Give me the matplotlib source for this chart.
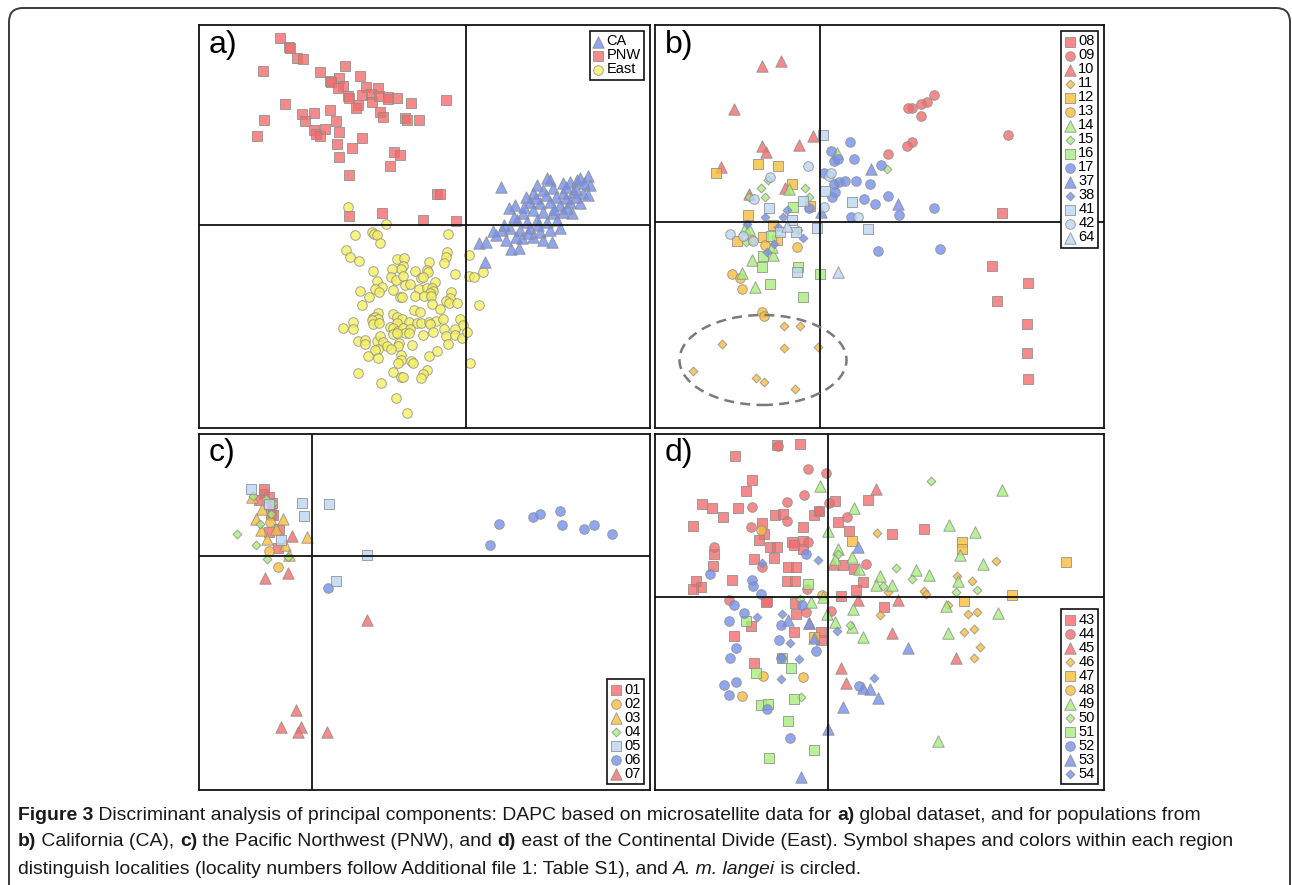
import matplotlib
matplotlib.use('Agg')
import matplotlib.pyplot as plt
from matplotlib.patches import FancyBboxPatch, Ellipse

# DAPC scores (arbitrary discriminant units, origin = axis cross)

# ---- a) global dataset
a_ca = [(35, 38), (27, -6), (36, -5), (13, -18), (20, -17), (19, -37), (45, -24), (53, -23), (43, 17), (49, 20),
        (81, 47), (84, 45), (97, 42), (104, 43), (111, 45), (114, 47), (122, 49), (124, 40), (71, 40), (67, 32),
        (77, 35), (87, 37), (97, 32), (107, 33), (117, 32), (122, 30), (64, 23), (74, 22), (84, 23), (94, 20),
        (104, 23), (114, 22), (57, 12), (67, 15), (77, 13), (87, 12), (97, 13), (106, 12), (51, 5), (61, 3),
        (71, 5), (81, 3), (91, 5), (44, -3), (54, -5), (64, -3), (74, -7), (84, -5), (94, -3), (56, -13),
        (67, -12), (77, -15), (86, -17), (60, 28), (90, 28), (100, 38), (110, 36), (118, 42), (58, 18), (70, 27),
        (80, 30), (100, 27), (110, 28), (48, 8), (38, 0), (30, -10), (62, -8), (72, 0), (88, 16), (101, 17),
        (50, -12), (40, -15)]
a_pnw = [(-186, 187), (-177, 178), (-176, 177), (-169, 167), (-163, 166), (-203, 154), (-146, 153), (-121, 159),
         (-106, 149), (-127, 147), (-136, 144), (-135, 143), (-123, 139), (-128, 137), (-100, 138), (-88, 137),
         (-118, 129), (-117, 127), (-104, 130), (-95, 131), (-94, 123), (-87, 129), (-78, 128), (-78, 126),
         (-69, 127), (-55, 122), (-20, 125), (-181, 121), (-108, 120), (-110, 117), (-164, 111), (-152, 112),
         (-136, 115), (-161, 104), (-202, 105), (-130, 104), (-86, 113), (-83, 108), (-61, 107), (-59, 105),
         (-47, 105), (-152, 95), (-150, 91), (-146, 89), (-141, 96), (-127, 93), (-209, 89), (-104, 87),
         (-129, 81), (-114, 77), (-127, 68), (-72, 73), (-66, 70), (-76, 59), (-117, 50), (-29, 31), (-26, 31),
         (-117, 9), (-84, 12), (-43, 5), (-10, 4)]
a_east = [(-118, 18), (-80, 1), (-111, -10), (-94, -7), (-92, -9), (-89, -10), (-86, -18), (-18, -9), (-120, -25),
          (-116, -32), (-107, -36), (-19, -27), (-20, -32), (-22, -38), (3, -30), (-69, -34), (-62, -33), (-37, -37),
          (-63, -41), (-65, -44), (-74, -44), (-93, -46), (-51, -46), (-39, -45), (-38, -47), (-75, -52), (-70, -55),
          (-63, -51), (-45, -53), (-43, -52), (-11, -49), (3, -51), (8, -52), (17, -47), (-89, -56), (-31, -57),
          (-61, -60), (-56, -59), (-84, -62), (-91, -64), (-87, -67), (-73, -65), (-47, -64), (-39, -63), (-34, -63),
          (-33, -66), (-36, -68), (-106, -66), (-97, -72), (-66, -72), (-64, -72), (-51, -71), (-42, -71), (-35, -71),
          (-15, -67), (-16, -73), (-20, -76), (-17, -78), (-9, -78), (-104, -80), (-34, -79), (13, -80), (-52, -85),
          (-46, -87), (-26, -84), (-88, -88), (-73, -89), (-93, -93), (-91, -92), (-88, -94), (-69, -92), (-64, -94),
          (-69, -98), (-57, -97), (-49, -98), (-45, -98), (-37, -97), (-30, -96), (-23, -94), (-36, -99), (-6, -94),
          (-3, -100), (-123, -103), (-113, -97), (-113, -104), (-94, -95), (-93, -99), (-87, -98), (-76, -102),
          (-73, -103), (-68, -106), (-63, -103), (-56, -104), (-61, -108), (-73, -109), (-69, -108), (-57, -108),
          (-33, -107), (-43, -110), (-22, -104), (-11, -104), (-20, -111), (-11, -110), (-4, -113), (1, -107),
          (-108, -116), (-101, -115), (-101, -119), (-89, -116), (-86, -111), (-83, -117), (-79, -121), (-67, -118),
          (-68, -121), (-54, -120), (-18, -119), (-88, -124), (-91, -125), (-75, -124), (-29, -126), (-98, -131),
          (-88, -133), (-65, -130), (-65, -135), (-68, -138), (-55, -136), (-53, -138), (-37, -131), (4, -138),
          (-108, -148), (-73, -147), (-65, -152), (-63, -152), (-39, -145), (-43, -149), (-45, -153), (-85, -158),
          (-70, -173), (-59, -188)]

# ---- b) California
b_08 = [(182, 9), (172, -44), (208, -61), (177, -79), (207, -102), (207, -131), (208, -157)]
b_09 = [(114, 127), (107, 120), (101, 118), (92, 114), (88, 114), (101, 106), (188, 87), (92, 80), (87, 76), (68, 68)]
b_10 = [(-58, 156), (-39, 161), (-86, 113), (-58, 76), (-54, 70), (-21, 77), (-7, 86), (-99, 55), (-71, 28), (-35, 34)]
b_11 = [(-36, -104), (-20, -104), (-98, -122), (-36, -126), (-2, -125), (-127, -149), (-64, -156), (-56, -160),
        (-25, -167)]
b_12 = [(-62, 58), (-42, 56), (-104, 49), (-28, 38), (-72, 7), (-47, -3), (-83, -19), (-57, -15), (-10, 16), (-43, -18)]
b_13 = [(-58, -90), (-56, -94), (-88, -52), (-78, -67), (-80, -56), (-55, -23), (-23, -25), (-68, -18)]
b_14 = [(-31, 33), (-75, -6), (-71, -7), (-68, -38), (-47, -33), (-48, -25), (-78, -51), (-65, -65), (17, 69)]
b_15 = [(-59, 34), (-55, 25), (-52, 42), (-15, 34), (-11, 25), (67, 53), (-71, 25), (-74, -20), (-22, -8)]
b_16 = [(-27, 15), (-49, -14), (-57, -34), (-58, -45), (-22, -45), (0, -52), (-50, -62), (-17, -75)]
b_17 = [(30, 80), (11, 71), (14, 61), (18, 63), (34, 63), (61, 57), (4, 49), (14, 38), (19, 40), (25, 41), (36, 41),
        (50, 38), (12, 25), (15, 30), (44, 23), (55, 18), (68, 26), (114, 14), (79, 7), (31, 5), (-11, 14), (58, -29),
        (120, -27)]
b_37 = [(51, 53), (78, 18), (1, 10)]
b_38 = [(-33, 12), (-55, 5), (-37, 5), (-73, -2), (-42, -5), (-17, -16), (-46, -22), (-53, -30)]
b_41 = [(3, 87), (5, 31), (32, 20), (-17, 21), (-51, 14), (-28, 2), (-24, -10), (-3, -6), (48, -7), (-23, -50),
        (-40, -10)]
b_42 = [(-12, 56), (-50, 45), (9, 46), (11, 49), (-66, 23), (4, 15), (38, 5), (-90, -12), (-77, -14), (-67, -19)]
b_64 = [(-33, -4), (18, -50)]
langei_centre = (-57, -138)
langei_size = (167, 90)

# ---- c) Pacific Northwest
c_01 = [(-48, 67), (-48, 62), (-43, 59), (-53, 56), (-40, 53), (-41, 42), (-39, 41), (-33, 27), (-43, 24), (-34, 8)]
c_02 = [(-42, 34), (-43, 5), (-34, -11)]
c_03 = [(-60, 59), (-50, 47), (-56, 37), (-29, 37), (-51, 26), (-36, 27), (-45, 17), (-5, 19), (-27, 11), (-23, 1)]
c_04 = [(-59, 60), (-46, 57), (-41, 42), (-52, 32), (-75, 22), (-56, 11), (-45, -3), (-24, -1), (-39, 53)]
c_05 = [(-61, 67), (-31, 16), (-43, 52), (-10, 53), (17, 52), (-8, 40), (55, 1), (24, -25)]
c_06 = [(177, 11), (186, 32), (220, 39), (227, 42), (247, 45), (249, 31), (271, 27), (281, 31), (299, 22), (16, -32)]
c_07 = [(-20, 20), (-47, -22), (-24, -17), (55, -64), (-16, -154), (-31, -171), (-11, -171), (-14, -176), (15, -176)]

# ---- d) east of the Continental Divide
d_43 = [(-51, 152), (-28, 153), (-93, 141), (-76, 117), (-82, 106), (-126, 93), (-116, 89), (-90, 89), (-105, 80),
        (-135, 71), (-53, 82), (-45, 83), (-66, 74), (-14, 82), (-9, 86), (7, 96), (40, 97), (10, 75), (21, 66),
        (64, 63), (96, 68), (-25, 70), (-64, 63), (-69, 57), (-36, 55), (-25, 56), (-25, 48), (-34, 52), (-58, 50),
        (-51, 50), (-114, 43), (-115, 31), (-74, 38), (-54, 39), (-40, 30), (-32, 30), (15, 32), (26, 28), (-96, 17),
        (-132, 16), (-127, 10), (-135, 8), (-41, 16), (-33, 16), (35, 15), (28, 7), (13, 1), (-61, -4), (56, -10),
        (-32, -17), (-77, -29), (-94, -39), (-34, -35), (-7, -35), (-7, -43), (-74, -66), (-33, -6), (-62, -5)]
d_44 = [(-50, 151), (-20, 128), (-2, 124), (-24, 102), (-41, 95), (-76, 90), (1, 94), (-9, 86), (19, 80), (-41, 76),
        (-77, 70), (-20, 55), (-114, 50), (-66, 30), (38, 33), (-21, 8), (-99, -3), (-22, -15), (3, -14)]
d_45 = [(48, 108), (70, -3), (30, -3), (5, 33), (64, -36), (-19, -26), (13, -71), (18, -86), (128, -61)]
d_46 = [(49, 64), (168, 36), (129, 21), (144, 16), (60, 5), (96, 6), (98, 3), (120, -8), (52, -18), (140, -17),
        (149, -15), (136, -35), (146, -32), (152, -50), (146, -61)]
d_47 = [(134, 55), (134, 48), (24, 56), (136, -4), (184, 2), (238, 35), (-14, -40)]
d_48 = [(-67, 67), (-6, 2), (-65, -79), (-25, -80), (-86, -99)]
d_49 = [(-8, 111), (26, 89), (0, 66), (10, 48), (7, 38), (24, 40), (31, 28), (52, 21), (48, 12), (64, 12), (88, 27),
        (101, 22), (121, 72), (147, 65), (132, 42), (155, 33), (130, 16), (174, 107), (-17, -5), (-5, 0), (118, -9),
        (25, -12), (7, -25), (35, -40), (120, -36), (170, -16), (110, -144), (24, -30), (-1, -17)]
d_50 = [(103, 116), (10, 43), (68, 29), (84, 18), (55, 11), (128, 5), (149, 7), (-28, -2), (22, -28), (-27, -100)]
d_51 = [(-20, 13), (-82, -24), (-37, -71), (-72, -76), (-34, -102), (-67, -108), (-60, -107), (-40, -124),
        (-14, -153), (-59, -161), (-46, -61)]
d_52 = [(-22, 43), (-118, 23), (-76, 17), (-75, 11), (-67, 3), (-94, -8), (-26, -8), (-84, -16), (-99, -24),
        (-47, -28), (-92, -51), (-49, -43), (-12, -54), (-98, -61), (-47, -61), (-104, -88), (-92, -85), (-99, -98),
        (-61, -112), (-38, -141), (31, -89)]
d_53 = [(30, 50), (-40, -23), (-19, -26), (-14, -41), (80, -51), (35, -91), (42, -92), (50, -101), (15, -110),
        (0, -132), (-27, -180)]
d_54 = [(-66, 34), (-10, 37), (-71, -20), (-46, -17), (9, -34), (-38, -46), (-47, -60), (-29, -62), (-47, -82),
        (46, -81)]

# ---- styles
RED = '#f26d6d'
ORANGE = '#fbbd3c'
GREEN = '#a8ee7c'
BLUE = '#7590ee'
LIGHTBLUE = '#bcd6f2'
YELLOW = '#f6f060'
EDGE = '#8c8c8c'
SIZES = {'s': 46, 'o': 48, '^': 68, 'D': 20}

# (label, points, colour, marker) per panel, in legend order
panel_a = [('CA', a_ca, BLUE, '^'), ('PNW', a_pnw, RED, 's'), ('East', a_east, YELLOW, 'o')]
panel_b = [('08', b_08, RED, 's'), ('09', b_09, RED, 'o'), ('10', b_10, RED, '^'),
           ('11', b_11, ORANGE, 'D'), ('12', b_12, ORANGE, 's'), ('13', b_13, ORANGE, 'o'),
           ('14', b_14, GREEN, '^'), ('15', b_15, GREEN, 'D'), ('16', b_16, GREEN, 's'),
           ('17', b_17, BLUE, 'o'), ('37', b_37, BLUE, '^'), ('38', b_38, BLUE, 'D'),
           ('41', b_41, LIGHTBLUE, 's'), ('42', b_42, LIGHTBLUE, 'o'), ('64', b_64, LIGHTBLUE, '^')]
panel_c = [('01', c_01, RED, 's'), ('02', c_02, ORANGE, 'o'), ('03', c_03, ORANGE, '^'),
           ('04', c_04, GREEN, 'D'), ('05', c_05, LIGHTBLUE, 's'), ('06', c_06, BLUE, 'o'),
           ('07', c_07, RED, '^')]
panel_d = [('43', d_43, RED, 's'), ('44', d_44, RED, 'o'), ('45', d_45, RED, '^'),
           ('46', d_46, ORANGE, 'D'), ('47', d_47, ORANGE, 's'), ('48', d_48, ORANGE, 'o'),
           ('49', d_49, GREEN, '^'), ('50', d_50, GREEN, 'D'), ('51', d_51, GREEN, 's'),
           ('52', d_52, BLUE, 'o'), ('53', d_53, BLUE, '^'), ('54', d_54, BLUE, 'D')]

W, H = 1292, 885
plt.rcParams['font.family'] = ['Liberation Sans', 'DejaVu Sans']
fig = plt.figure(figsize=(W / 100, H / 100), dpi=100)

# background layer in pixel coordinates: rounded frame + caption
bg = fig.add_axes([0, 0, 1, 1], zorder=0)
bg.set_xlim(0, W)
bg.set_ylim(H, 0)
bg.axis('off')
bg.add_patch(FancyBboxPatch((9, 8), 1281, 900, boxstyle='round,pad=0,rounding_size=14',
                            fc='white', ec='#3a3a3a', lw=1.4))


def make_panel(box, label, groups, xlim, ylim, legend_loc, draw_order=None):
    x0, y0, x1, y1 = box
    ax = fig.add_axes([x0 / W, 1 - y1 / H, (x1 - x0) / W, (y1 - y0) / H], zorder=2)
    ax.set_xlim(*xlim)
    ax.set_ylim(*ylim)
    ax.set_xticks([])
    ax.set_yticks([])
    for sp in ax.spines.values():
        sp.set_linewidth(1.3)
        sp.set_color('#111111')
    handles = {}
    order = draw_order if draw_order else range(len(groups))
    for i in order:
        name, pts, col, mk = groups[i]
        xs = [p[0] for p in pts]
        ys = [p[1] for p in pts]
        handles[name] = ax.scatter(xs, ys, s=SIZES[mk], marker=mk, c=col, alpha=0.8,
                                   edgecolors=EDGE, linewidths=0.7, zorder=2, label=name)
    ax.axhline(0, color='#111111', lw=1.3, zorder=3)
    ax.axvline(0, color='#111111', lw=1.3, zorder=3)
    ax.text(0.022, 0.988, label, transform=ax.transAxes, ha='left', va='top', fontsize=23)
    names = [g[0] for g in groups]
    leg = ax.legend([handles[n] for n in names], names, loc=legend_loc, fontsize=10.5,
                    frameon=True, fancybox=False, framealpha=1, edgecolor='#111111',
                    handlelength=0.7, handletextpad=0.2, labelspacing=0.0, borderpad=0.25,
                    borderaxespad=0.4, scatterpoints=1)
    leg.get_frame().set_linewidth(1.2)
    leg.set_zorder(5)
    return ax


make_panel((199, 25, 650, 428), 'a)', panel_a, (-267, 184), (-203, 200), 'upper right', draw_order=[2, 1, 0])
ax_b = make_panel((655, 25, 1104, 428), 'b)', panel_b, (-165, 284), (-206, 197), 'upper right')
ax_b.add_patch(Ellipse(langei_centre, langei_size[0], langei_size[1], fill=False,
                       ec='#7a7a7a', lw=1.8, ls=(0, (4, 2.5)), zorder=4))
make_panel((199, 434, 650, 790), 'c)', panel_c, (-113, 337), (-234, 122), 'lower right')
make_panel((655, 434, 1104, 790), 'd)', panel_d, (-173, 276), (-193, 163), 'lower right')

# caption, drawn piece by piece so bold / italic runs line up
cap_font = ['Liberation Sans', 'DejaVu Sans']
caption = [
    (815, [('Figure 3', 'bold'), (' Discriminant analysis of principal components: DAPC based on microsatellite data for ', 'normal'),
           ('a)', 'bold'), (' global dataset, and for populations from', 'normal')]),
    (842, [('b)', 'bold'), (' California (CA), ', 'normal'), ('c)', 'bold'),
           (' the Pacific Northwest (PNW), and ', 'normal'), ('d)', 'bold'),
           (' east of the Continental Divide (East). Symbol shapes and colors within each region', 'normal')]),
    (869, [('distinguish localities (locality numbers follow Additional file 1: Table S1), and ', 'normal'),
           ('A. m. langei', 'italic'), (' is circled.', 'normal')]),
]
renderer = fig.canvas.get_renderer()


def draw_line(y, parts, size):
    x = 18
    made = []
    for txt, st in parts:
        kw = {'fontweight': 'bold'} if st == 'bold' else ({'fontstyle': 'italic'} if st == 'italic' else {})
        t = bg.text(x, y, txt, fontsize=size, va='center', ha='left', family=cap_font, color='#1a1a1a', **kw)
        x += t.get_window_extent(renderer).width
        made.append(t)
    return x, made


# fit the two full-width lines into the same span as the reference
widest = 0
for y, parts in caption[:2]:
    end, tmp = draw_line(y, parts, 12)
    widest = max(widest, end - 18)
    for t in tmp:
        t.remove()
cap_size = 12 * (1232 - 18) / widest
for y, parts in caption:
    draw_line(y, parts, cap_size)

fig.savefig('out.png', dpi=100)
